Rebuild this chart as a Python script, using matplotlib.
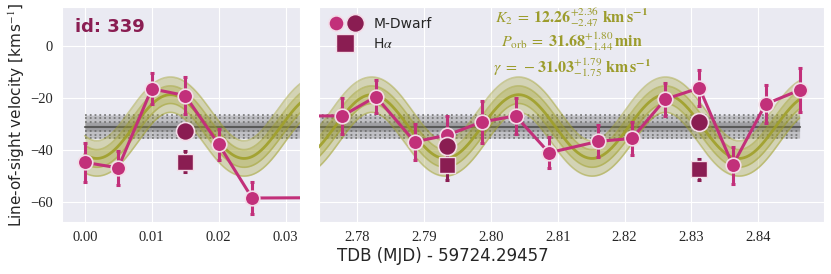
import numpy as np
import matplotlib.pyplot as plt
import seaborn as sns
from matplotlib.legend_handler import HandlerTuple
from matplotlib.lines import Line2D

sns.set_style("darkgrid")
plt.rcParams['font.family'] = ['DejaVu Sans']
plt.rcParams['mathtext.fontset'] = 'stix'

# M-Dwarf velocities (main series, connected)
t_md = [0.0, 0.005, 0.010, 0.015, 0.020, 0.025,
        2.7778, 2.7828, 2.7886, 2.7935, 2.7986, 2.8037, 2.8087,
        2.8161, 2.8211, 2.8261, 2.8312, 2.8362, 2.8411, 2.8462]
v_md = [-44.8, -46.9, -16.5, -19.1, -37.8, -58.5,
        -26.9, -19.5, -36.9, -34.3, -29.3, -26.9, -41.1,
        -36.7, -35.6, -20.5, -16.2, -45.9, -22.4, -17.0]
e_md = [7.6, 6.5, 6.0, 7.0, 6.0, 6.3,
        6.8, 6.4, 7.0, 7.3, 8.2, 7.0, 6.0,
        6.2, 6.3, 6.3, 7.0, 7.2, 7.3, 8.6]

# second M-Dwarf measurement (dark circles)
t_md2 = [0.015, 2.7935, 2.8312]
v_md2 = [-32.8, -38.5, -29.2]

# H-alpha
t_ha = [0.015, 2.7935, 2.8312]
v_ha = [-44.5, -45.9, -47.5]
e_ha = [4.0, 5.8, 4.1]

# orbit fit parameters
K2, dK2 = 12.26, 2.9
P_orb = 31.65          # min, used for the drawn curve
gamma, dgamma = -31.03, 1.77
t_peak = 0.0128
dphi = 0.3

pink = '#c2307a'
dark = '#8a1d52'
olive = '#a0a02a'
txt_olive = '#9c9c2c'

fig = plt.figure(figsize=(8.31, 2.74), dpi=100)
ax1 = fig.add_axes([0.0746, 0.190, 0.286, 0.784])
ax2 = fig.add_axes([0.384, 0.190, 0.608, 0.784])


def draw(ax, tmin, tmax):
    tt = np.linspace(tmin, tmax, 600)
    ph = 2 * np.pi * (tt - t_peak) / (P_orb / 1440.0)
    vv = gamma + K2 * np.cos(ph)
    sig = np.sqrt(dgamma**2 + (dK2 * np.cos(ph))**2 + (K2 * dphi * np.sin(ph))**2)
    # systemic velocity band
    ax.fill_between(tt, gamma - 2.5 * dgamma, gamma + 2.5 * dgamma,
                    color='0.5', alpha=0.4, lw=0, zorder=1)
    ax.fill_between(tt, gamma - dgamma, gamma + dgamma,
                    color='0.4', alpha=0.35, lw=0, zorder=1)
    for off in [-2.5, -1.8, -1, 1, 1.8, 2.5]:
        ax.plot(tt, np.full_like(tt, gamma + off * dgamma), ls=':', lw=1.3,
                color='0.4', alpha=0.8, zorder=1)
    ax.plot(tt, np.full_like(tt, gamma), color='0.35', lw=1.5, zorder=1)
    # orbit model
    ax.fill_between(tt, vv - 2 * sig, vv + 2 * sig, color=olive, alpha=0.3, lw=0, zorder=2)
    ax.fill_between(tt, vv - sig, vv + sig, color=olive, alpha=0.3, lw=0, zorder=2)
    for s in [-2, -1, 1, 2]:
        ax.plot(tt, vv + s * sig, color=olive, alpha=0.45, lw=1.2, zorder=2)
    ax.plot(tt, vv, color=olive, lw=2, alpha=0.9, zorder=3)

    # data
    ax.plot(t_md, v_md, color=pink, lw=2.2, zorder=4)
    _, caps, _ = ax.errorbar(t_md, v_md, yerr=e_md, fmt='none', ecolor=pink,
                             elinewidth=2.2, capsize=1.3, capthick=2.2, zorder=4)
    for c in caps:
        c.set_color('k')
    ax.plot(t_md, v_md, 'o', ms=10.5, color=pink, mec='#f3dde8', mew=1.2, zorder=5)
    _, caps, _ = ax.errorbar(t_ha, v_ha, yerr=e_ha, fmt='none', ecolor=dark,
                             elinewidth=2.2, capsize=1.3, capthick=2.2, zorder=5)
    for c in caps:
        c.set_color('k')
    ax.plot(t_ha, v_ha, 's', ms=12, color=dark, mec='#f3dde8', mew=1.0, zorder=6)
    ax.plot(t_md2, v_md2, 'o', ms=13, color=dark, mec='#f3dde8', mew=1.2, zorder=7)

    ax.set_ylim(-67.7, 14.9)
    ax.set_yticks([-60, -40, -20, 0])
    ax.tick_params(labelfontfamily='Liberation Serif', labelsize=10.5, pad=3)


draw(ax1, 0.0, 0.0325)
draw(ax2, 2.774, 2.8462)

ax1.set_xlim(-0.0034, 0.0321)
ax1.set_xticks([0.0, 0.01, 0.02, 0.03])
ax1.set_xticklabels(['0.00', '0.01', '0.02', '0.03'])
ax2.set_xlim(2.7743, 2.8499)
ax2.set_xticks([2.78, 2.79, 2.80, 2.81, 2.82, 2.83, 2.84])
ax2.set_xticklabels(['2.78', '2.79', '2.80', '2.81', '2.82', '2.83', '2.84'])
ax2.set_yticklabels([])
ax2.tick_params(axis='y', length=0)

ax1.set_ylabel(r'Line-of-sight velocity [km$\,$s$^{-1}$]', fontsize=11, labelpad=2)
fig.text(0.533, 0.065, 'TDB (MJD) - 59724.29457', ha='center', va='center', fontsize=12)

ax1.text(0.055, 0.95, 'id: 339', transform=ax1.transAxes, fontsize=13,
         fontweight='bold', color=dark, va='top')

h1 = Line2D([], [], ls='none', marker='o', ms=11, color=pink, mec='#f3dde8', mew=1.2)
h2 = Line2D([], [], ls='none', marker='o', ms=13, color=dark, mec='#f3dde8', mew=1.2)
h3 = Line2D([], [], ls='none', marker='s', ms=13, color=dark, mec='#f3dde8', mew=1.0)
ax2.legend([(h1, h2), h3], ['M-Dwarf', r'H$\alpha$'],
           handler_map={tuple: HandlerTuple(ndivide=None, pad=0.3)},
           loc='upper left', frameon=False, fontsize=10, borderaxespad=0.3,
           handlelength=2.4, labelspacing=0.45)

ax2.text(0.5, 0.952, r'$K_2\;=\;\mathbf{12.26}^{+2.36}_{-2.47}\ \mathbf{km\,s^{-1}}$',
         transform=ax2.transAxes, ha='center', va='center', fontsize=11.5, color=txt_olive)
ax2.text(0.5, 0.838, r'$P_{\rm orb}\;=\;\mathbf{31.68}^{+1.80}_{-1.44}\,\mathbf{min}$',
         transform=ax2.transAxes, ha='center', va='center', fontsize=11.5, color=txt_olive)
ax2.text(0.5, 0.72, r'$\gamma\;=\;-\mathbf{31.03}^{+1.79}_{-1.75}\ \mathbf{km\,s^{-1}}$',
         transform=ax2.transAxes, ha='center', va='center', fontsize=11.5, color=txt_olive)

fig.savefig('out.png', dpi=100)
